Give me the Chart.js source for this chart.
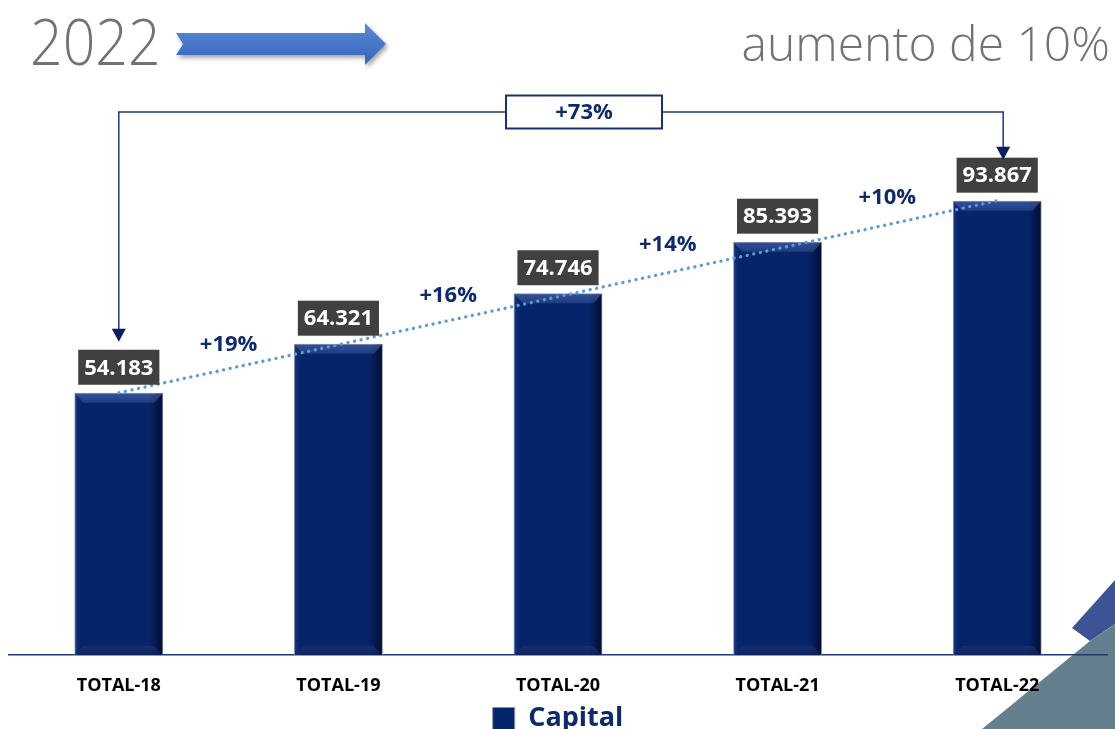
<!DOCTYPE html>
<html>
<head>
<meta charset="utf-8">
<script src="https://cdn.jsdelivr.net/npm/chart.js@4/dist/chart.umd.min.js"></script>
<style>
  html,body{margin:0;padding:0;background:#fff;}
  #wrap{position:relative;width:1115px;height:729px;overflow:hidden;}
  #deco{position:absolute;left:0;top:0;}
  #c{position:absolute;left:0;top:0;}
  #year{position:absolute;left:30px;top:8px;font-family:"Open Sans",sans-serif;font-weight:300;font-size:65px;color:#767171;line-height:1;transform:scaleX(0.88);transform-origin:left top;}
  #note{position:absolute;right:5px;top:19px;font-family:"Open Sans",sans-serif;font-weight:300;font-size:48px;color:#767171;line-height:1;}
</style>
</head>
<body>
<div id="wrap">
  <svg id="deco" width="1115" height="729">
    <defs>
      <linearGradient id="ag" x1="0" y1="0" x2="0" y2="1">
        <stop offset="0" stop-color="#5b8ad6"/>
        <stop offset="1" stop-color="#3764bd"/>
      </linearGradient>
      <filter id="sh" x="-10%" y="-30%" width="130%" height="180%">
        <feDropShadow dx="2" dy="3" stdDeviation="2" flood-color="#000" flood-opacity="0.35"/>
      </filter>
    </defs>
    <polygon points="176,33 365,33 365,23 386,44 365,65 365,55 176,55 183,44" fill="url(#ag)" filter="url(#sh)"/>
    <polygon points="1115,580 1072,628 1090,641 1115,624" fill="#3c5496"/>
    <polygon points="982,729 1090,641 1115,624 1115,729" fill="#667f8f"/>
  </svg>
  <canvas id="c" width="1115" height="729"></canvas>
  <div id="year"></div>
  <div id="note"></div>
</div>
<script>
// ---- data ----
const headerYear = '2022';
const headerNote = 'aumento de 10%';
const categories = ['TOTAL-18', 'TOTAL-19', 'TOTAL-20', 'TOTAL-21', 'TOTAL-22'];
const seriesName = 'Capital';
const capitalValues = [54183, 64321, 74746, 85393, 93867];
// trend line joins first and last values
const trendValues = [capitalValues[0], null, null, null, capitalValues[capitalValues.length - 1]];

document.getElementById('year').textContent = headerYear;
document.getElementById('note').textContent = headerNote;

const NAVY = '#0e2a6b';
const LINE = '#1f3877';
const FONT = '"Open Sans", sans-serif';

function fmt(v) { return String(v).replace(/\B(?=(\d{3})+(?!\d))/g, '.'); }
function pct(a, b) { return '+' + Math.round((b / a - 1) * 100) + '%'; }

const barStyle = {
  id: 'barStyle',
  afterDatasetDraw(chart, args) {
    if (args.meta.type !== 'bar') return;
    const ctx = chart.ctx;
    args.meta.data.forEach(bar => {
      const p = bar.getProps(['x', 'y', 'base', 'width'], true);
      const l = p.x - p.width / 2, r = p.x + p.width / 2, t = p.y, b = p.base;
      ctx.save();
      let g = ctx.createLinearGradient(r - 14, 0, r, 0);
      g.addColorStop(0, 'rgba(0,5,30,0)');
      g.addColorStop(1, 'rgba(0,5,30,0.75)');
      ctx.fillStyle = g;
      ctx.fillRect(r - 14, t + 1, 13, b - t - 1);
      g = ctx.createLinearGradient(l, 0, l + 6, 0);
      g.addColorStop(0, 'rgba(60,90,160,0.35)');
      g.addColorStop(1, 'rgba(60,90,160,0)');
      ctx.fillStyle = g;
      ctx.fillRect(l + 1, t + 1, 6, b - t - 1);
      g = ctx.createLinearGradient(0, t, 0, t + 10);
      g.addColorStop(0, 'rgba(80,110,180,0.6)');
      g.addColorStop(1, 'rgba(100,130,200,0.25)');
      ctx.fillStyle = g;
      ctx.beginPath();
      ctx.moveTo(l + 1, t + 1); ctx.lineTo(r - 1, t + 1); ctx.lineTo(r - 9, t + 10); ctx.lineTo(l + 9, t + 10);
      ctx.closePath(); ctx.fill();
      g = ctx.createLinearGradient(0, b - 10, 0, b);
      g.addColorStop(0, 'rgba(40,60,120,0.5)');
      g.addColorStop(1, 'rgba(20,35,90,0.6)');
      ctx.fillStyle = g;
      ctx.beginPath();
      ctx.moveTo(l + 1, b); ctx.lineTo(r - 1, b); ctx.lineTo(r - 9, b - 9); ctx.lineTo(l + 9, b - 9);
      ctx.closePath(); ctx.fill();
      ctx.restore();
    });
  }
};

const annotations = {
  id: 'annotations',
  afterDatasetsDraw(chart) {
    const ctx = chart.ctx;
    const ys = chart.scales.y;
    const bars = chart.getDatasetMeta(1).data;
    const boxH = 35, gap = 8;
    const boxTops = [];
    ctx.save();
    ctx.font = 'bold 22px ' + FONT;
    ctx.textAlign = 'center';
    ctx.textBaseline = 'middle';
    bars.forEach((bar, i) => {
      const txt = fmt(capitalValues[i]);
      const w = ctx.measureText(txt).width + 12;
      const top = bar.y - gap - boxH;
      boxTops.push(top);
      ctx.fillStyle = '#404040';
      ctx.fillRect(bar.x - w / 2, top, w, boxH);
      ctx.fillStyle = '#ffffff';
      ctx.fillText(txt, bar.x, top + boxH / 2 + 1);
    });
    ctx.font = 'bold 22px ' + FONT;
    ctx.fillStyle = NAVY;
    for (let i = 1; i < bars.length; i++) {
      const x = (bars[i - 1].x + bars[i].x) / 2;
      const y = ys.getPixelForValue((capitalValues[i - 1] + capitalValues[i]) / 2) - 23;
      ctx.fillText(pct(capitalValues[i - 1], capitalValues[i]), x, y);
    }
    const lx = bars[0].x, rx = bars[bars.length - 1].x + 6;
    const topY = 112;
    const bw = 156, bh = 33, bcx = 584;
    const tipL = boxTops[0] - 8, tipR = boxTops[boxTops.length - 1] + 2;
    ctx.strokeStyle = LINE;
    ctx.lineWidth = 1.5;
    ctx.beginPath();
    ctx.moveTo(lx, tipL - 12); ctx.lineTo(lx, topY); ctx.lineTo(bcx - bw / 2, topY);
    ctx.moveTo(bcx + bw / 2, topY); ctx.lineTo(rx, topY); ctx.lineTo(rx, tipR - 10);
    ctx.stroke();
    ctx.fillStyle = '#0b1f5c';
    [[lx, tipL], [rx, tipR]].forEach(([x, y]) => {
      ctx.beginPath();
      ctx.moveTo(x - 7, y - 13); ctx.lineTo(x + 7, y - 13); ctx.lineTo(x, y);
      ctx.closePath(); ctx.fill();
    });
    ctx.fillStyle = '#ffffff';
    ctx.fillRect(bcx - bw / 2, topY - bh / 2, bw, bh);
    ctx.lineWidth = 2;
    ctx.strokeStyle = '#1a3270';
    ctx.strokeRect(bcx - bw / 2, topY - bh / 2, bw, bh);
    ctx.fillStyle = NAVY;
    ctx.font = 'bold 22px ' + FONT;
    ctx.fillText(pct(capitalValues[0], capitalValues[capitalValues.length - 1]), bcx, topY + 1);
    ctx.restore();
  }
};

new Chart(document.getElementById('c'), {
  type: 'bar',
  data: {
    labels: categories,
    datasets: [
      {
        type: 'line',
        label: 'trend',
        data: trendValues,
        borderColor: '#5b9bd5',
        borderWidth: 3.3,
        borderDash: [0.1, 6.6],
        borderCapStyle: 'round',
        pointRadius: 0,
        spanGaps: true,
        fill: false,
        order: 0
      },
      {
        label: seriesName,
        data: capitalValues,
        backgroundColor: '#06246a',
        borderColor: '#8a92a3',
        borderWidth: 1,
        barPercentage: 0.405,
        categoryPercentage: 1,
        order: 1
      }
    ]
  },
  options: {
    responsive: false,
    animation: false,
    layout: { padding: { top: 171, left: 9, right: 8, bottom: 0 } },
    scales: {
      x: {
        grid: { display: false, drawTicks: false },
        border: { display: true, color: LINE, width: 1.5 },
        ticks: { color: '#000', font: { family: FONT, weight: 'bold', size: 18 }, padding: 20 },
        afterFit(scale) { scale.height = 48; }
      },
      y: { display: false, min: 0, max: 100000 }
    },
    plugins: {
      legend: {
        position: 'bottom',
        maxHeight: 26,
        labels: {
          filter: item => item.text === seriesName,
          color: NAVY,
          font: { family: FONT, weight: 'bold', size: 27 },
          boxWidth: 22,
          boxHeight: 22,
          padding: 2
        }
      },
      tooltip: { enabled: false }
    }
  },
  plugins: [barStyle, annotations]
});
</script>
</body>
</html>
